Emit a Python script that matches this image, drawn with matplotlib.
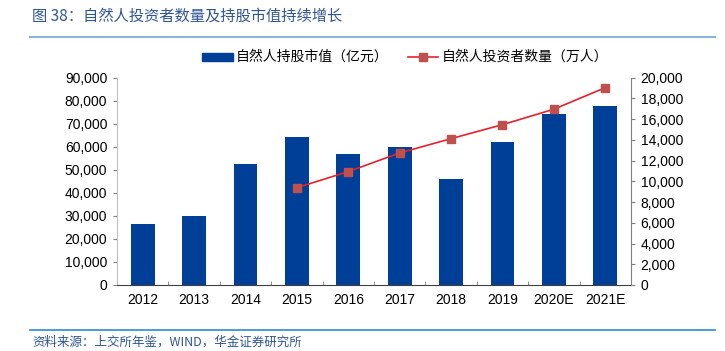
import numpy as np
import matplotlib.pyplot as plt
from matplotlib.ticker import FuncFormatter, FixedLocator

plt.rcParams['font.family'] = ['Liberation Sans', 'Noto Sans CJK SC', 'DejaVu Sans']

years = ['2012', '2013', '2014', '2015', '2016', '2017', '2018', '2019', '2020E', '2021E']
mkt_value = [26700, 30000, 52400, 64200, 57000, 59800, 45900, 62300, 74300, 77600]
inv_years = ['2015', '2016', '2017', '2018', '2019', '2020E', '2021E']
investors = [9390, 10940, 12740, 14120, 15470, 16960, 19040]

bar_color = '#003F98'
line_color = '#E8202A'
marker_color = '#C0504D'
cjk = ['Noto Sans CJK SC', 'DejaVu Sans']

fig = plt.figure(figsize=(7.25, 3.51), dpi=100)
ax = fig.add_axes([117/725, 1-285/351, (631-117)/725, (285-77.7)/351])

x = np.arange(len(years))
ax.bar(x, mkt_value, width=0.46, color=bar_color, zorder=2)
ax.set_xlim(-0.5, len(years)-0.5)
ax.set_ylim(0, 90000)
ax.set_yticks(np.arange(0, 90001, 10000))
fmt = FuncFormatter(lambda v, p: f'{int(v):,}')
ax.yaxis.set_major_formatter(fmt)
ax.set_xticks(x)
ax.set_xticklabels(years)
ax.xaxis.set_minor_locator(FixedLocator(np.arange(0.5, len(years)-1, 1)))
ax.tick_params(axis='x', which='major', length=0, pad=6, labelsize=10)
ax.tick_params(axis='x', which='minor', length=3, direction='in', color='#808080')
ax.tick_params(axis='y', length=3, color='#808080', labelsize=10, pad=4)
ax.spines['top'].set_visible(False)
ax.spines['right'].set_visible(False)
ax.spines['left'].set_color('#BFBFBF')
ax.spines['bottom'].set_color('#404040')

ax2 = ax.twinx()
xi = [years.index(y) for y in inv_years]
ax2.plot(xi, investors, color=line_color, lw=1.2, marker='s', ms=6,
         mfc=marker_color, mec=marker_color, zorder=3)
ax2.set_ylim(0, 20000)
ax2.set_yticks(np.arange(0, 20001, 2000))
ax2.yaxis.set_major_formatter(fmt)
ax2.tick_params(axis='y', length=3, color='#808080', labelsize=10, pad=4)
for s in ['top', 'left', 'bottom']:
    ax2.spines[s].set_visible(False)
ax2.spines['right'].set_color('#808080')

# legend
fig.patches.append(plt.Rectangle((202/725, 1-61/351), 31/725, 8/351,
                                 transform=fig.transFigure, color=bar_color))
fig.text(236/725, 1-57/351, '自然人持股市值（亿元）', family=cjk, fontsize=10,
         va='center', ha='left')
fig.lines.append(plt.Line2D([408/725, 438/725], [1-57/351, 1-57/351],
                            transform=fig.transFigure, color=line_color, lw=1.2))
fig.lines.append(plt.Line2D([423/725], [1-57/351], transform=fig.transFigure,
                            marker='s', ms=6, color=marker_color, lw=0))
fig.text(442/725, 1-57/351, '自然人投资者数量（万人）', family=cjk, fontsize=10,
         va='center', ha='left')

# header & footer
fig.text(32/725, 1-16/351, '图 38：自然人投资者数量及持股市值持续增长', family=cjk,
         fontsize=11, color='#2F5597', va='center', ha='left')
fig.lines.append(plt.Line2D([30/725, 715/725], [1-37/351, 1-37/351],
                            transform=fig.transFigure, color='#8DB3E2', lw=1.5))
fig.lines.append(plt.Line2D([30/725, 715/725], [1-330/351, 1-330/351],
                            transform=fig.transFigure, color='#2E8BD0', lw=1.2))
fig.text(32/725, 1-342/351, '资料来源：上交所年鉴，WIND，华金证券研究所', family=cjk,
         fontsize=9, color='#2F5597', style='italic', va='center', ha='left')

fig.savefig('out.png', dpi=100)
